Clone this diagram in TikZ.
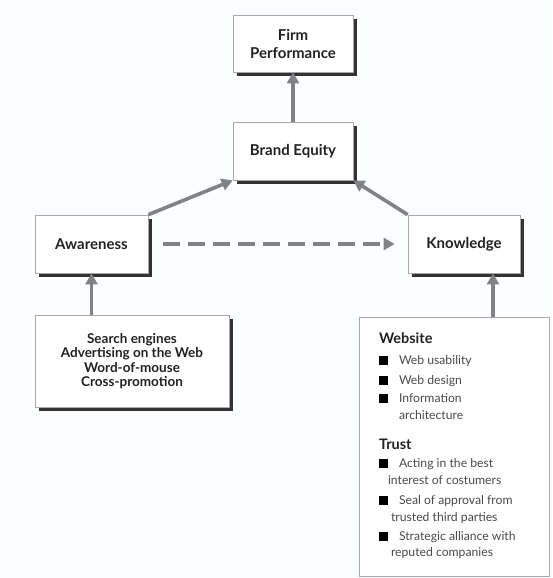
\documentclass[tikz,border=0pt]{standalone}
\usepackage{fontspec}
\setmainfont{Lato}
\usetikzlibrary{arrows.meta,shadows}
\definecolor{bg}{HTML}{FBFDFE}
\definecolor{arrowgray}{HTML}{808285}
\definecolor{boxline}{HTML}{A8A8A8}
\definecolor{shadowc}{HTML}{333333}
\definecolor{txt}{HTML}{222222}
\definecolor{bodytxt}{HTML}{4A4A4A}
\newcommand\sqb{\makebox[20pt][l]{\color{black}\rule[0pt]{8.5pt}{8.5pt}}}
\newcommand\hd[1]{{\fontsize{14.5}{17}\selectfont\color{txt}\bfseries #1}}
\tikzset{
  x=1pt,y=-1pt,
  box/.style={draw=boxline,line width=0.7pt,fill=white,inner sep=0pt,align=center,
    text=txt,font=\fontsize{15}{18}\selectfont\bfseries,
    drop shadow={shadow xshift=4pt,shadow yshift=-4pt,fill=shadowc,opacity=1}},
  listbox/.style={draw=boxline,line width=0.7pt,fill=white,inner sep=0pt,
    minimum width=190pt,minimum height=259pt},
  arr/.style={draw=arrowgray,line width=3.6pt,-{Triangle[length=11pt,width=12pt]}},
  darr/.style={arr,dash pattern=on 17pt off 8pt},
}
\begin{document}
\begin{tikzpicture}
\fill[bg] (0,0) rectangle (552,578);
\useasboundingbox (0,0) rectangle (552,578);
\node[box,minimum width=120pt,minimum height=57pt] (firm) at (293,43.5) {Firm\\Performance};
\node[box,minimum width=120pt,minimum height=58pt] (brand) at (293,151) {Brand Equity};
\node[box,minimum width=113pt,minimum height=58pt] (aware) at (91.5,244) {Awareness};
\node[box,minimum width=112pt,minimum height=58pt] (know) at (464,244) {Knowledge};
\node[box,minimum width=194pt,minimum height=92pt,font=\fontsize{13.5}{14.5}\selectfont\bfseries] (search) at (132,361)
  {Search engines\\Advertising on the Web\\Word-of-mouse\\Cross-promotion};
\node[listbox] (tools) at (454,446.5) {\begin{minipage}[t][259pt][t]{190pt}
\vspace*{16pt}
\fontsize{12.2}{17}\selectfont\color{bodytxt}\raggedright\leftskip=20pt
\hd{Website}\\[4pt]
\sqb Web usability\\[3pt]
\sqb Web design\\[1pt]
\sqb Information\\
\hspace*{20pt}architecture\\[13pt]
\hd{Trust}\\[1pt]
\sqb Acting in the best\\
\hspace*{9pt}interest of costumers\\[3pt]
\sqb Seal of approval from\\
\hspace*{12pt}trusted third parties\\[2pt]
\sqb Strategic alliance with\\[-1pt]
\hspace*{12pt}reputed companies\par
\end{minipage}};
\coordinate (kx) at (493,0);
\draw[arr] (brand.north) -- (firm.south);
\draw[arr] (aware.north east) -- (brand.south west);
\draw[arr] (know.north west) -- (brand.south east);
\draw[darr,shorten <=15pt,shorten >=13pt] (aware.east) -- (know.west);
\draw[arr] (search.north -| aware.south) -- (aware.south);
\draw[arr] (tools.north -| kx) -- (know.south -| kx);
\end{tikzpicture}
\end{document}
